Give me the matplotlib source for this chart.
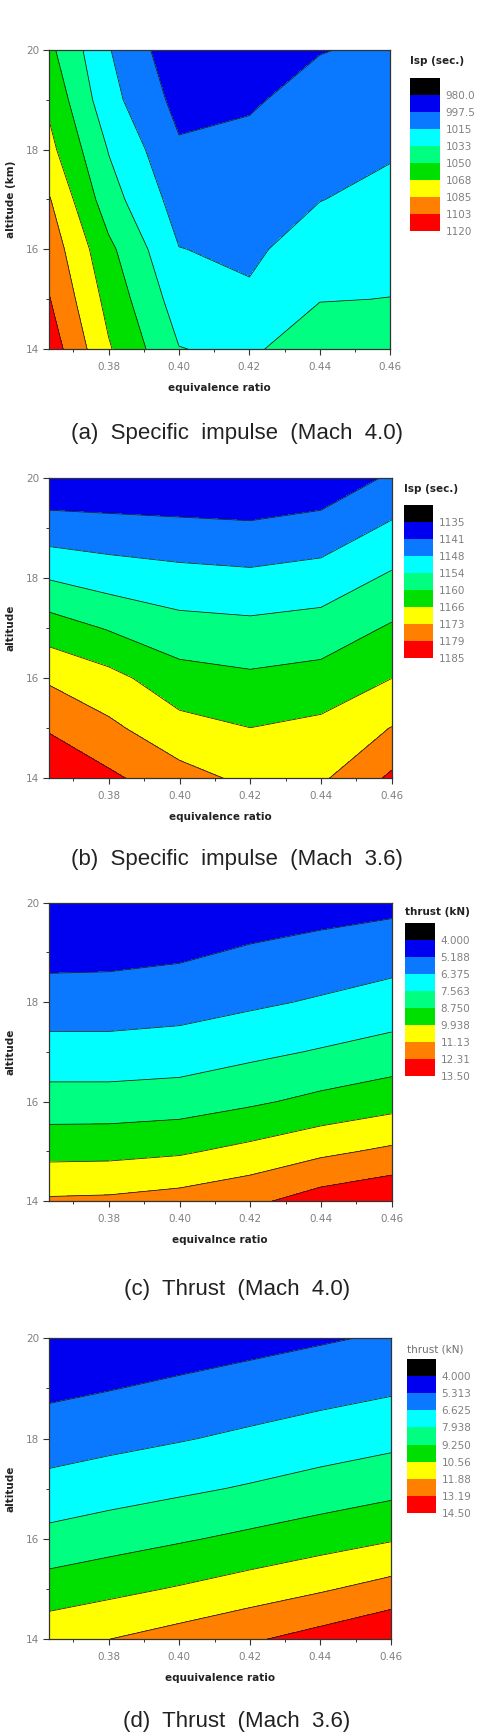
import matplotlib
matplotlib.use("Agg")
import matplotlib.pyplot as plt
from matplotlib.ticker import MultipleLocator

# grid of the contour data: equivalence ratio (columns) x altitude in km (rows)
phi = [0.363, 0.38, 0.40, 0.42, 0.44, 0.46]
alt = [14, 15, 16, 17, 18, 19, 20]

# (a) specific impulse, Mach 4.0  [sec]
isp_m40 = [
    [1113.0, 1069.3, 1033.0, 1029.0, 1045.0, 1041.0],
    [1103.7, 1061.8, 1024.1, 1017.4, 1031.7, 1032.8],
    [1096.0, 1054.2, 1015.4, 1012.0, 1023.0, 1026.3],
    [1086.7, 1040.0, 1007.6, 1006.6, 1014.6, 1019.7],
    [1073.0, 1031.7, 999.8, 1001.2, 1008.7, 1013.2],
    [1064.2, 1021.0, 992.0, 995.8, 1002.8, 1006.6],
    [1054.5, 1016.1, 985.0, 990.4, 996.9, 1000.1],
]
# (b) specific impulse, Mach 3.6  [sec]
isp_m36 = [
    [1184.0, 1180.0, 1174.8, 1171.1, 1171.5, 1179.9],
    [1178.2, 1173.8, 1168.4, 1166.3, 1167.8, 1172.7],
    [1171.6, 1168.2, 1162.4, 1161.0, 1162.2, 1166.2],
    [1163.1, 1159.5, 1156.0, 1155.3, 1156.3, 1160.7],
    [1153.4, 1151.0, 1149.6, 1148.9, 1150.1, 1154.7],
    [1144.0, 1143.5, 1142.8, 1142.2, 1143.6, 1148.5],
    [1136.2, 1135.7, 1135.6, 1135.5, 1136.9, 1142.1],
]
# (c) thrust, Mach 4.0  [kN]
thrust_m40 = [
    [11.28, 11.34, 11.60, 12.05, 12.88, 13.36],
    [9.568, 9.596, 9.783, 10.274, 10.865, 11.346],
    [8.057, 8.063, 8.178, 8.567, 9.051, 9.479],
    [6.806, 6.798, 6.912, 7.289, 7.655, 8.022],
    [5.757, 5.767, 5.894, 6.181, 6.500, 6.872],
    [4.776, 4.820, 4.990, 5.339, 5.586, 5.849],
    [4.300, 4.300, 4.400, 4.450, 4.700, 4.877],
]
# (d) thrust, Mach 3.6  [kN]
thrust_m36 = [
    [11.44, 11.86, 12.42, 13.02, 13.68, 14.40],
    [9.845, 10.21, 10.67, 11.19, 11.729, 12.347],
    [8.340, 8.698, 9.104, 9.535, 9.986, 10.449],
    [7.050, 7.353, 7.701, 8.067, 8.480, 8.883],
    [5.993, 6.243, 6.537, 6.871, 7.224, 7.561],
    [5.020, 5.260, 5.565, 5.857, 6.155, 6.449],
    [4.100, 4.280, 4.595, 4.885, 5.175, 5.469],
]

levels_a = [962.5, 980.0, 997.5, 1015.0, 1032.5, 1050.0, 1067.5, 1085.0, 1102.5, 1120.0]
levels_b = [1128.75, 1135.0, 1141.25, 1147.5, 1153.75, 1160.0, 1166.25, 1172.5, 1178.75, 1185.0]
levels_c = [2.8125, 4.0, 5.1875, 6.375, 7.5625, 8.75, 9.9375, 11.125, 12.3125, 13.5]
levels_d = [2.6875, 4.0, 5.3125, 6.625, 7.9375, 9.25, 10.5625, 11.875, 13.1875, 14.5]

labels_a = ["980.0", "997.5", "1015", "1033", "1050", "1068", "1085", "1103", "1120"]
labels_b = ["1135", "1141", "1148", "1154", "1160", "1166", "1173", "1179", "1185"]
labels_c = ["4.000", "5.188", "6.375", "7.563", "8.750", "9.938", "11.13", "12.31", "13.50"]
labels_d = ["4.000", "5.313", "6.625", "7.938", "9.250", "10.56", "11.88", "13.19", "14.50"]

band_colors = ["#000000", "#0000f0", "#0a78ff", "#00ffff", "#00ff80",
               "#00e000", "#ffff00", "#ff8000", "#ff0000"]

W, H = 484, 1734
fig = plt.figure(figsize=(W / 100, H / 100), dpi=100)


def box(l, t, r, b):
    # pixel box (top-left origin) -> figure fraction
    return [l / W, 1 - b / H, (r - l) / W, (b - t) / H]


panels = [
    dict(z=isp_m40, lv=levels_a, lb=labels_a, ylabel="altitude (km)",
         xlabel="equivalence ratio", title="Isp (sec.)", bold=True,
         caption="(a)  Specific  impulse  (Mach  4.0)",
         ax=(48.7, 50, 390.3, 349), cb=(410, 77.7, 440, 230.7), ty=61, cy=433),
    dict(z=isp_m36, lv=levels_b, lb=labels_b, ylabel="altitude",
         xlabel="equivalence ratio", title="Isp (sec.)", bold=True,
         caption="(b)  Specific  impulse  (Mach  3.6)",
         ax=(48.7, 477.7, 391.7, 778.3), cb=(404, 505, 433.3, 658.3), ty=489, cy=860),
    dict(z=thrust_m40, lv=levels_c, lb=labels_c, ylabel="altitude",
         xlabel="equivalnce ratio", title="thrust (kN)", bold=True,
         caption="(c)  Thrust  (Mach  4.0)",
         ax=(48.7, 902.7, 391.7, 1201), cb=(405, 923.3, 435, 1076), ty=912, cy=1289),
    dict(z=thrust_m36, lv=levels_d, lb=labels_d, ylabel="altitude",
         xlabel="equuivalence ratio", title="thrust (kN)", bold=False,
         caption="(d)  Thrust  (Mach  3.6)",
         ax=(48.7, 1338.3, 391, 1639), cb=(406.7, 1359.3, 436, 1512.7), ty=1349, cy=1722),
]

for p in panels:
    ax = fig.add_axes(box(*p["ax"]))
    cf = ax.contourf(phi, alt, p["z"], levels=p["lv"], colors=band_colors)
    ax.contour(phi, alt, p["z"], levels=p["lv"][1:-1], colors="#1a1a1a",
               linewidths=0.55)
    ax.set_xlim(phi[0], phi[-1])
    ax.set_ylim(alt[0], alt[-1])

    ax.xaxis.set_major_locator(MultipleLocator(0.02))
    ax.xaxis.set_minor_locator(MultipleLocator(0.01))
    ax.yaxis.set_major_locator(MultipleLocator(2))
    ax.yaxis.set_minor_locator(MultipleLocator(1))
    ax.tick_params(which="major", length=4, width=0.8, color="#333333",
                   labelsize=7.5, labelcolor="#808080")
    ax.tick_params(which="minor", length=2.5, width=0.7, color="#333333")
    ax.tick_params(axis="x", pad=5)
    ax.tick_params(axis="y", pad=3)
    for s in ax.spines.values():
        s.set_linewidth(0.9)
        s.set_color("#333333")

    h = p["ax"][3] - p["ax"][1]
    ax.text(0.5, -39 / h, p["xlabel"], transform=ax.transAxes, ha="center",
            va="center", fontsize=7.5, fontweight="bold", color="#222222")
    ax.text(-38 / (p["ax"][2] - p["ax"][0]), 0.5, p["ylabel"], transform=ax.transAxes,
            ha="center", va="center", rotation=90, fontsize=7.5,
            fontweight="bold", color="#222222")

    cax = fig.add_axes(box(*p["cb"]))
    cb = fig.colorbar(cf, cax=cax)
    cb.set_ticks(p["lv"][1:])
    cb.set_ticklabels(p["lb"])
    cax.invert_yaxis()
    cb.outline.set_visible(False)
    cax.tick_params(length=0, pad=4, labelsize=7.5, labelcolor="#808080")

    fig.text(p["cb"][0] / W, 1 - p["ty"] / H, p["title"], ha="left", va="center",
             fontsize=7.5, fontweight="bold" if p["bold"] else "normal",
             color="#222222" if p["bold"] else "#707070")
    fig.text(237 / W, 1 - p["cy"] / H, p["caption"], ha="center", va="center",
             fontsize=16, family="Liberation Sans", color="#222222")

fig.savefig("out.png", dpi=100)
